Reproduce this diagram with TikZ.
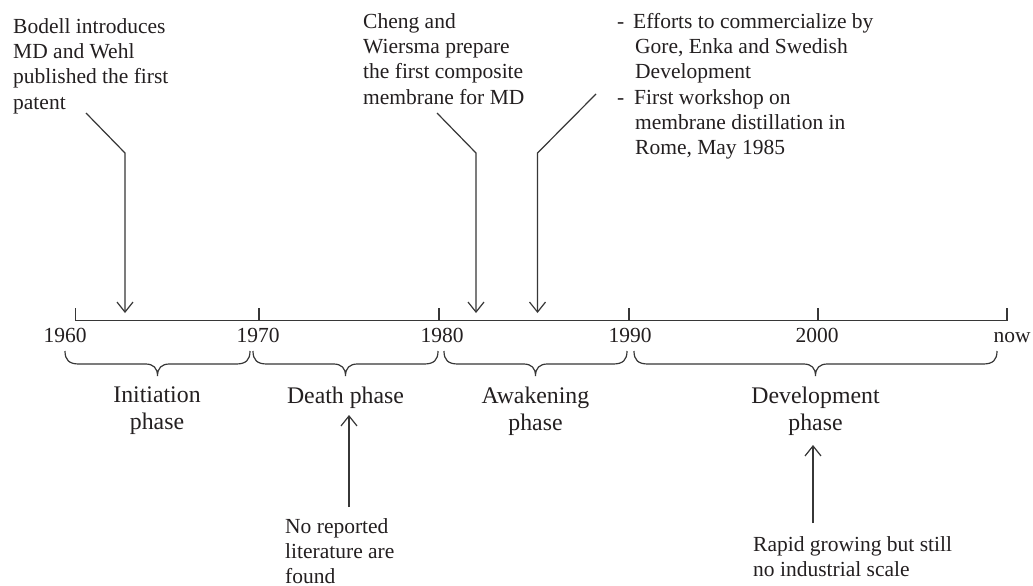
\documentclass[tikz,border=0pt]{standalone}
\usepackage{fontspec}
\setmainfont{Liberation Serif}
\usetikzlibrary{arrows.meta}
\definecolor{ink}{RGB}{35,31,32}
\definecolor{linec}{RGB}{55,55,55}
\begin{document}
\begin{tikzpicture}[x=1pt,y=-1pt,
  txt/.style={font=\fontsize{21.5}{25.3}\selectfont, inner sep=0pt, text=ink, align=left, anchor=north west},
  yr/.style={font=\fontsize{21.5}{25.3}\selectfont, inner sep=0pt, text=ink, anchor=base},
  phase/.style={font=\fontsize{23.8}{26.5}\selectfont, inner sep=0pt, text=ink, align=center, anchor=north},
  axisline/.style={line width=1.4pt, draw=linec},
  evarrow/.style={line width=1.2pt, draw=linec, line join=miter, -{Straight Barb[length=10pt,width=16pt,line width=1.2pt]}},
  brc/.style={line width=1.2pt, draw=linec},
]
\useasboundingbox (0,0) rectangle (1033,586);
\fill[white] (0,0) rectangle (1033,586);

% top notes
\node[txt] (bodell) at (13,18) {Bodell introduces\\MD and Wehl\\published the first\\patent};
\node[txt] (cheng) at (363,13) {Cheng and\\Wiersma prepare\\the first composite\\membrane for MD};
\node[txt] (efforts) at (617,13) {\makebox[16pt][l]{-}Efforts to commercialize by\\\hspace*{18pt}Gore, Enka and Swedish\\\hspace*{18pt}Development\\\makebox[17pt][l]{-}First workshop on\\\hspace*{18pt}membrane distillation in\\\hspace*{18pt}Rome, May 1985};

% axis
\coordinate (t1960) at (75.5,320.5);
\coordinate (t1970) at (259,320.5);
\coordinate (t1980) at (439,320.5);
\coordinate (t1990) at (629,320.5);
\coordinate (t2000) at (818,320.5);
\coordinate (tnow) at (1007,320.5);
\draw[axisline] (t1960) -- (tnow);
\foreach \t in {t1960,t1970,t1980,t1990,t2000,tnow}
  \draw[axisline] (\t) -- ++(0,-12.5);

% year labels
\node[yr] (y1960) at (65,342.5) {1960};
\node[yr] (y1970) at (258,342.5) {1970};
\node[yr] (y1980) at (442,342.5) {1980};
\node[yr] (y1990) at (630,342.5) {1990};
\node[yr] (y2000) at (817,342.5) {2000};
\node[yr] (ynow) at (1012,342.5) {now};

% braces
\foreach \xa/\xb in {65/250, 253/438, 444/627, 634/997}{
  \pgfmathsetmacro{\xm}{(\xa+\xb)/2}
  \draw[brc] (\xa,351) .. controls (\xa,360) and (\xa+4,364) .. (\xa+14,364)
    -- (\xm-12,364) .. controls (\xm-4,364) and (\xm,368) .. (\xm,376)
    .. controls (\xm,368) and (\xm+4,364) .. (\xm+12,364)
    -- (\xb-14,364) .. controls (\xb-4,364) and (\xb,360) .. (\xb,351);
}

% phase labels
\node[phase] (init) at (157,387) {Initiation\\phase};
\node[phase] (death) at (345.5,387) {Death phase};
\node[phase] (awake) at (535.5,387) {Awakening\\phase};
\node[phase] (devel) at (815.5,387) {Development\\phase};

% bottom notes
\node[txt] (noreport) at (285,518) {No reported\\literature are\\found};
\node[txt] (rapid) at (753,536) {Rapid growing but still\\no industrial scale};

% top arrows
\coordinate (a1s) at (86,113);  \coordinate (a1b) at (125,153);  \coordinate (a1e) at (125,313);
\coordinate (a2s) at (437,113); \coordinate (a2b) at (476,153);  \coordinate (a2e) at (476,313);
\coordinate (a3s) at (596,94);  \coordinate (a3b) at (537.5,153); \coordinate (a3e) at (537.5,313);
\draw[evarrow] (a1s) -- (a1b) -- (a1e);
\draw[evarrow] (a2s) -- (a2b) -- (a2e);
\draw[evarrow] (a3s) -- (a3b) -- (a3e);

% bottom arrows
\coordinate (a4s) at (349,507); \coordinate (a4e) at (349,415);
\coordinate (a5s) at (813,523); \coordinate (a5e) at (813,445);
\draw[evarrow] (a4s) -- (a4e);
\draw[evarrow] (a5s) -- (a5e);
\end{tikzpicture}
\end{document}
